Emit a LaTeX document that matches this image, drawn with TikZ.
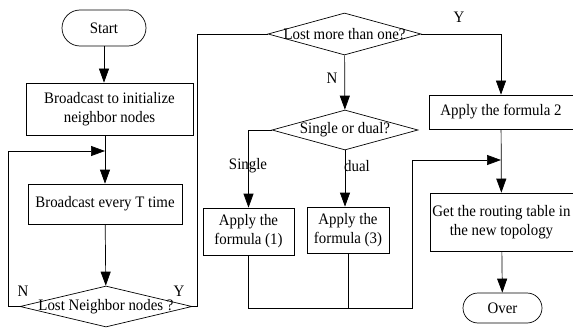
\documentclass[tikz,border=0pt]{standalone}
\usepackage{fontspec}
\setmainfont{Liberation Serif}[FakeStretch=0.93]
\usetikzlibrary{arrows.meta,shapes.geometric,shapes.misc}
\begin{document}
\begin{tikzpicture}[x=1pt, y=-1pt, line width=0.7pt,
    every node/.style={font=\fontsize{16}{19}\selectfont},
    term/.style={draw, rounded rectangle, inner sep=0pt},
    proc/.style={draw, rectangle, inner sep=0pt, align=center},
    cond/.style={draw, diamond, inner sep=0pt},
    arr/.style={-{Triangle[length=14pt,width=10pt]}}]
    \useasboundingbox (0,0) rectangle (573,329);

    % 1. Cột bên trái
    \node[term, minimum width=84pt, minimum height=36pt] (start) at (104,28) {Start};
    \node[proc, minimum width=167pt, minimum height=52pt] (init) at (109.5,109) {Broadcast to initialize\\neighbor nodes};
    \node[proc, minimum width=154pt, minimum height=40pt] (every) at (105,204) {Broadcast every T time};
    \node[cond, minimum width=172pt, minimum height=41pt, label={center:Lost Neighbor nodes ?}] (lost) at (106,306.5) {};
    \node at (23,291) {N};
    \node at (179,291) {Y};

    % 2. Cột giữa
    \node[cond, minimum width=153pt, minimum height=42pt, label={center:Lost more than one?}] (more) at (344.5,34) {};
    \node[cond, minimum width=146pt, minimum height=40pt, label={center:Single or dual?}] (sod) at (345,130) {};
    \node[proc, minimum width=91pt, minimum height=47pt] (f1) at (248.5,231.5) {Apply the\\formula (1)};
    \node[proc, minimum width=82pt, minimum height=46pt] (f3) at (348,230) {Apply the\\formula (3)};
    \node at (332,78) {N};
    \node at (248,166) {Single};
    \node at (357,166) {dual};

    % 3. Cột bên phải
    \node[proc, minimum width=144pt, minimum height=34pt] (f2) at (501,112) {Apply the formula 2};
    \node[proc, minimum width=143pt, minimum height=58pt] (get) at (501.5,222) {Get the routing table in\\the new topology};
    \node[term, minimum width=79pt, minimum height=30pt] (over) at (502.5,308) {Over};
    \node at (459,17) {Y};

    % 4. Các điểm nối
    \coordinate (loopL) at (8,151);
    \coordinate (jn) at (412,308);
    \coordinate (ji) at (412,160);

    % 5. Các mũi tên
    \draw[arr] (start.south) -- (start.south |- init.north);
    \draw[arr] (every.north |- init.south) -- (every.north);
    \draw[arr] (lost.west) -| (loopL) -- (every.north |- loopL);
    \draw[arr] (every) -- (lost);
    \draw (lost.east) -- ++(5,0) |- (more.west);
    \draw[arr] (more.east) -| (f2.north);
    \draw[arr] (more) -- (sod);
    \draw[arr] (sod.west) -| (f1.north);
    \draw[arr] (sod.south) -- (sod.south |- f3.north);
    \draw[arr] (f1.south) |- (jn) -- (ji) -- (ji -| f2.south);
    \draw (f3.south) -- (f3.south |- jn);
    \draw[arr] (f2) -- (get);
    \draw[arr] (get) -- (over);
\end{tikzpicture}
\end{document}
